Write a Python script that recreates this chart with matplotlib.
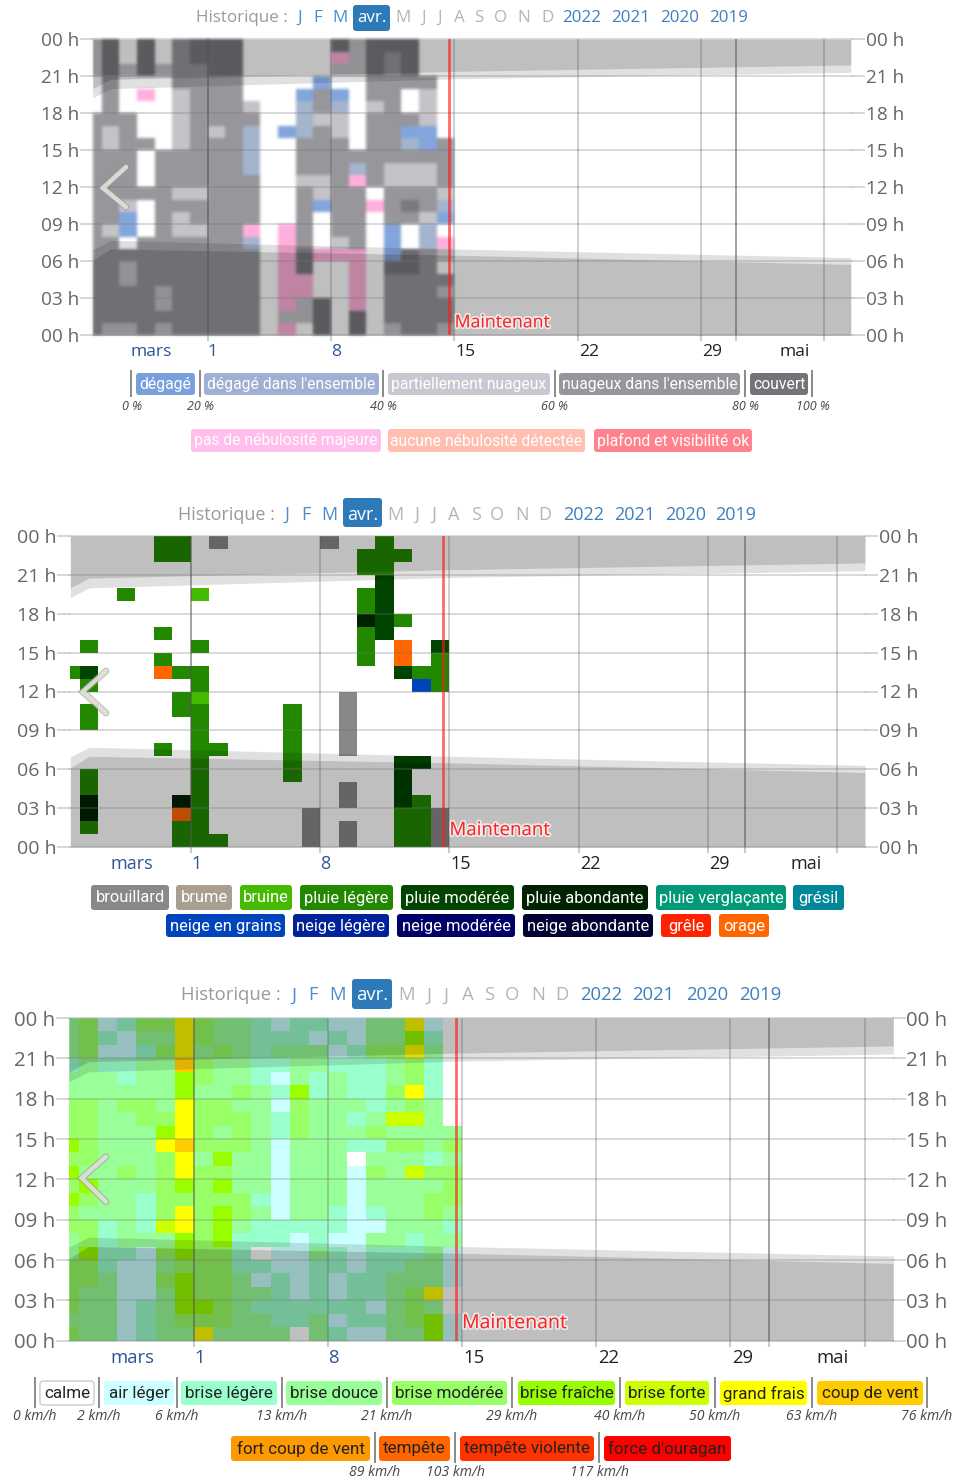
import matplotlib
matplotlib.use("Agg")
import numpy as np
import matplotlib.pyplot as plt
import matplotlib.patheffects as pe
from matplotlib.colors import ListedColormap
from matplotlib.patches import FancyBboxPatch

plt.rcParams['font.family'] = ['Open Sans', 'DejaVu Sans']
W, H = 955, 1481
PX = 0.72  # points per pixel at dpi 100

# ---------- data ----------
cloud_keys = "12345P"
cloud_cols = ["#82a5dc", "#a5b4cd", "#c3c3c8", "#96969b", "#78787e", "#ffafdc"]
cloud_rows = [
 "35.5.4555" "....." "53555" "..",
 "35.5.4555" "....." "P3545" "..",
 "353534455" "....." "33545" "..",
 ".4...4444" "....1" "..4444" ".",
 ".4.P.3444" "...14" "1.44.3.",
 ".4...3444" "3..24" "2.34.3.",
 "444..3444" "4..23" "3.4443.",
 "434..3434" "2.124" "3.4411.",
 "4344.3444" "2..44" "4.44214",
 "444.44444" "2..44" "4444444",
 "444.44444" "2..44" "4243334",
 "444.44444" "4..33" "4P43334",
 "444443344" "4..43" "44.4443",
 "443.44444" "4..41" "44P4542",
 "441.43444" "4..4." "44.4431",
 "431.43344" "P.P4." "44.1.2.",
 "44.444444" "2.P4." "34.1.2P",
 "444444444" "4.P5P" "PP.1543",
 "443444444" "4.P5." ".P.554.",
 "443444444" "4.PP." ".P.4444",
 "444434444" "4.PP." ".P.4443",
 "444434444" "4.P35" ".P.4444",
 "444444444" "4.335" ".5.4444",
 "433434444" "4.P.5" ".5.3443",
]
precip_keys = "rbpMAno"
precip_cols = ["#888888", "#44bb00", "#228800", "#004400", "#002200", "#0044bb", "#ff6600"]
precip_rows = [
 ".....pp.r.....r..p...",
 ".....pp.........ppp..",
 "................pp...",
 ".................M...",
 "...p...b........pM...",
 "................pM...",
 "................AMp..",
 ".....p..........pM...",
 ".p.....p........p.o.M",
 ".....p..........p.o.p",
 "pM...opp..........Mpp",
 ".p.....p...........np",
 "......pb.......r.....",
 ".p....pp....p..r.....",
 ".p.....p....p..r.....",
 ".......p....p..r.....",
 ".....p.pp...p..r.....",
 ".......p....p.....MM.",
 ".p.....p....p.....M..",
 ".p.....p.......r..M..",
 ".A....Ap.......r..Mp.",
 ".A....op.....r....ppr",
 ".p....pp.....r.r..ppr",
 "......ppp....r.r..ppr",
]
wind_keys = "waldmfogc"
wind_cols = ["#ffffff", "#ccffff", "#99ffcc", "#99ff99", "#99ff66", "#99ff00", "#ccff00", "#ffff00", "#ffcc00"]
wind_rows = [
 "dmalmmgmddlallaaddgaw",
 "dmladdgmddlllaladdflw",
 "dmaalmgdmdldddalmmgdw",
 "ldllddcmddllddllldmlw",
 "dddlddfmddladldlldmlw",
 "ddddddfddmdlfldllmglw",
 "mmdmmdgmmddamdddldmdw",
 "mmddmmgmmmdlmddldoodw",
 "mmdddfgmdmdlmdddmdddd",
 "fmdddgcmmmdadddllmmdm",
 "mmdddmgdfddadddwdddld",
 "fddmdmgmmddadddamdomm",
 "mfdddmfmfddadddaddddm",
 "fmddlmmmmmladddadddmm",
 "mdddlmgmfmdaddlalddmd",
 "mmldlogmfdlllllaadddl",
 "dmldddfmflllalaaddldd",
 "dfllamfmmlwaadlalllda",
 "mmlaadmmmllaallalldda",
 "mmdaamfmmdalalallddda",
 "mddaadfmmddlalalldmgw",
 "mddaldffmdlllllladmdw",
 "dddaldmmmddlldalldmfa",
 "mddalddgddddwdlaaddfa",
]
hour_labels = ["00 h", "21 h", "18 h", "15 h", "12 h", "09 h", "06 h", "03 h", "00 h"]
grid_days = [0, 7, 14, 21, 28, 30, 35]
month_grid_days = [0, 30]
x_labels = ["mars", "1", "8", "15", "22", "29", "mai"]
x_label_days = [-3.2, 0.3, 7.3, 14.63, 21.63, 28.63, 33.3]
x_label_past = [True, True, True, False, False, False, False]
now_day = 13.68
# night shading edges, hours from the top of the grid
night_x = [-6.52, -5.5, 14.0, 36.5]
top_dark = [4.0, 3.25, 2.6, 2.08]
top_twilight = [4.74, 4.0, 3.2, 2.68]
bottom_twilight = [17.05, 16.3, 17.0, 17.7]
bottom_dark = [17.9, 17.0, 17.5, 18.25]

months_before = ["J", "F", "M"]
months_after = ["M", "J", "J", "A", "S", "O", "N", "D"]
years = ["2022", "2021", "2020", "2019"]

cloud_legend1 = ["dégagé", "dégagé dans l'ensemble", "partiellement nuageux", "nuageux dans l'ensemble", "couvert"]
cloud_legend1_cols = ["#78a0dc", "#a0afd2", "#c8c8d2", "#96969b", "#737378"]
cloud_ticks = ["0 %", "20 %", "40 %", "60 %", "80 %", "100 %"]
cloud_legend2 = ["pas de nébulosité majeure", "aucune nébulosité détectée", "plafond et visibilité ok"]
cloud_legend2_cols = ["#ffbeeb", "#ffbeaf", "#ff828c"]
precip_legend1 = ["brouillard", "brume", "bruine", "pluie légère", "pluie modérée", "pluie abondante", "pluie verglaçante", "grésil"]
precip_legend1_cols = ["#888888", "#a89f91", "#44bb00", "#228800", "#004400", "#002200", "#009977", "#008899"]
precip_legend2 = ["neige en grains", "neige légère", "neige modérée", "neige abondante", "grêle", "orage"]
precip_legend2_cols = ["#0044bb", "#002299", "#000066", "#000033", "#ff2200", "#ff6600"]
wind_legend1 = ["calme", "air léger", "brise légère", "brise douce", "brise modérée", "brise fraîche", "brise forte", "grand frais", "coup de vent"]
wind_legend1_cols = ["#ffffff", "#ccffff", "#99ffcc", "#99ff99", "#99ff66", "#99ff00", "#ccff00", "#ffff00", "#ffcc00"]
wind_ticks1 = ["0 km/h", "2 km/h", "6 km/h", "13 km/h", "21 km/h", "29 km/h", "40 km/h", "50 km/h", "63 km/h", "76 km/h"]
wind_legend2 = ["fort coup de vent", "tempête", "tempête violente", "force d'ouragan"]
wind_legend2_cols = ["#ff9900", "#ff6600", "#ff3300", "#ff0000"]
wind_ticks2 = ["89 km/h", "103 km/h", "117 km/h"]

# ---------- layout (pixels) ----------
fig = plt.figure(figsize=(W / 100, H / 100), dpi=100, facecolor="white")
over = fig.add_axes([0, 0, 1, 1], zorder=5)
over.set_xlim(0, W); over.set_ylim(H, 0); over.axis("off"); over.patch.set_alpha(0)


def soften(img, dpi, radius=3):
    """Small blur: the cloud grid of the reference is a slightly blurred screenshot."""
    weights = np.array([1, 3, 6, 7, 6, 3, 1], float)[3 - radius:4 + radius]
    weights /= weights.sum()
    pad = radius
    a = np.pad(img, ((pad, pad), (pad, pad), (0, 0)))
    a[..., :3] *= a[..., 3:4]
    for axis in (0, 1):
        a = sum(w * np.roll(a, i - radius, axis=axis) for i, w in enumerate(weights))
    alpha = np.clip(a[..., 3:4], 1e-6, 1)
    a[..., :3] = np.clip(a[..., :3] / alpha, 0, 1)
    return a, -pad, -pad


def panel(left, right, top, bottom, rows, keys, cols, day_lim, fs, yfs, xlabel_px, now_y, now_fs, blur=False):
    ax = fig.add_axes([left / W, 1 - bottom / H, (right - left) / W, (bottom - top) / H], zorder=2)
    idx = np.ma.masked_less(np.array([[keys.find(c) for c in r] for r in rows], float), 0)
    mesh = ax.pcolormesh(np.arange(-7, 15), np.arange(25), idx, cmap=ListedColormap(cols),
                         vmin=0, vmax=len(cols) - 1, antialiased=False, linewidth=0, zorder=1)
    if blur:
        mesh.set_agg_filter(soften)
    ax.fill_between(night_x, 0, top_dark, color="black", alpha=.25, lw=0, zorder=2)
    ax.fill_between(night_x, top_dark, top_twilight, color="black", alpha=.12, lw=0, zorder=2)
    ax.fill_between(night_x, bottom_dark, 24, color="black", alpha=.25, lw=0, zorder=2)
    ax.fill_between(night_x, bottom_twilight, bottom_dark, color="black", alpha=.12, lw=0, zorder=2)
    ax.set_xlim(*day_lim); ax.set_ylim(24, 0)
    for s in ax.spines.values():
        s.set_visible(False)
    ax.set_yticks(np.arange(0, 25, 3), hour_labels)
    ax.tick_params(axis="y", left=True, right=True, labelleft=True, labelright=True, length=13 * PX, width=1.2,
                   color="#cfcfcf", labelcolor="#666666", labelsize=yfs * PX, pad=0.5)
    ax.set_xticks(grid_days, [""] * len(grid_days))
    ax.tick_params(axis="x", which="major", length=4, width=1.5, color="#cccccc", pad=0)
    ax.set_xticks(x_label_days, x_labels, minor=True)
    ax.tick_params(axis="x", which="minor", length=0, pad=xlabel_px, labelsize=fs * PX)
    for t, past in zip(ax.get_xticklabels(minor=True), x_label_past):
        t.set_color("#2f5597" if past else "#222222")
    for h in range(0, 25, 3):
        ax.axhline(h, color="#777777", alpha=.28, lw=1.4, zorder=3, clip_on=False)
    for d in grid_days:
        ax.axvline(d, color="#555555", alpha=.55 if d in month_grid_days else .28, lw=1.4, zorder=3)
    ax.axvline(now_day, color="#ff1a1a", alpha=.65, lw=2, zorder=4)
    ax.annotate("Maintenant", (now_day, now_y), xytext=(6, 0), textcoords="offset pixels", color="#ff2222",
                fontsize=now_fs * PX, va="center", ha="left", zorder=6,
                path_effects=[pe.withStroke(linewidth=2.5, foreground="#ffffffb0")])
    return ax


panel(92.7, 852, 39.3, 335.3, cloud_rows, cloud_keys, cloud_cols, (-6.52, 36.57), 17.5, 19, 6, 22.95, 17.7, blur=True)
panel(70.3, 865, 536, 847, precip_rows, precip_keys, precip_cols, (-6.52, 36.5), 18, 19.5, 6, 22.7, 18.7)
panel(69, 892.7, 1018, 1340.7, wind_rows, wind_keys, wind_cols, (-6.52, 36.47), 18.5, 20.5, 6, 22.7, 19.5)


def nav(y, hx, xb, pill, xa, xy, fs):
    y = y + 1.5
    over.text(hx, y, "Historique :", color="#9a9a9a", fontsize=fs * PX, ha="left", va="center")
    for s, x in zip(months_before, xb):
        over.text(x, y, s, color="#4a8ccc", fontsize=fs * PX, ha="center", va="center")
    over.add_patch(FancyBboxPatch((pill[0] + 2, pill[2] + 2), pill[1] - pill[0] - 4, pill[3] - pill[2] - 4,
                                  boxstyle="round,pad=2,rounding_size=3", fc="#2e7ab8", ec="none"))
    over.text((pill[0] + pill[1]) / 2, y, "avr.", color="white", fontsize=fs * PX, ha="center", va="center")
    for s, x in zip(months_after, xa):
        over.text(x, y, s, color="#b5b5b5", fontsize=fs * PX, ha="center", va="center")
    for s, x in zip(years, xy):
        over.text(x, y, s, color="#3f7fbf", fontsize=fs * PX, ha="center", va="center")


nav(16, 196, [300, 318, 340], (353, 390, 5, 31), [403, 424, 440, 459, 479, 501, 524, 547], [582, 631, 680, 729], 17)
nav(513, 178, [287, 306, 329], (343, 382, 498, 527), [395, 417, 434, 454, 476, 497, 522, 545], [584, 635, 686, 736], 18)
nav(994, 181, [294, 313, 337], (352, 392, 979, 1009), [406, 429, 446, 468, 489, 512, 538, 562], [601, 653, 707, 760], 18.5)


def pills(labels, colors, spans, y0, y1, fs, tc, edge=None):
    for s, c, (a, b) in zip(labels, colors, spans):
        over.add_patch(FancyBboxPatch((a + 3, y0 + 3), b - a - 6, y1 - y0 - 6, boxstyle="round,pad=3,rounding_size=3",
                                      fc=c, ec=edge if (edge and c == "#ffffff") else "none", lw=1))
        over.text((a + b) / 2, (y0 + y1) / 2 + 0.5, s, color=tc, fontsize=fs * PX, ha="center", va="center",
                  family=["Roboto", "DejaVu Sans"])


def seps(xs, y0, y1):
    for x in xs:
        over.plot([x, x], [y0, y1], color="#777777", lw=1.2, solid_capstyle="butt")


def tick_texts(labels, xs, y, fs):
    for s, x in zip(labels, xs):
        over.text(x, y, s, color="#444444", fontsize=fs * PX, style="italic", ha="center", va="center")


# cloud legend
cloud_seps = [131, 199.5, 383, 554.5, 745, 812]
seps(cloud_seps, 370, 397)
pills(cloud_legend1, cloud_legend1_cols,
      [(136, 195), (204, 379), (388, 550), (559, 740), (750, 808)], 373, 395, 15.6, "white")
tick_texts(cloud_ticks, [132, 200, 383, 554, 745, 813], 407, 12.5)
pills(cloud_legend2, cloud_legend2_cols, [(191, 381), (388, 585), (594, 752)], 429, 452, 15.6, "white")

# precipitation legend
pills(precip_legend1, precip_legend1_cols,
      [(91, 169), (176, 232), (240, 292), (300, 393), (401, 514), (522, 648), (656, 786), (793, 844)],
      885, 910, 16.5, "white")
pills(precip_legend2, precip_legend2_cols,
      [(166, 285), (293, 389), (397, 515), (523, 653), (661, 711), (719, 769)],
      914, 937, 16.5, "white")

# wind legend
wind_seps1 = [35, 99, 177, 282, 387, 512, 620, 715, 812, 927]
seps(wind_seps1, 1377, 1408)
pills(wind_legend1, wind_legend1_cols,
      [(40, 94), (104, 174), (181, 277), (286, 382), (392, 507), (518, 615), (625, 709), (720, 807), (817, 923)],
      1381, 1405, 17, "#222222", edge="#cccccc")
tick_texts(wind_ticks1, [35, 99, 177, 282, 387, 512, 620, 715, 812, 927], 1417, 14)
seps([374.5, 455, 599], 1432, 1463)
pills(wind_legend2, wind_legend2_cols, [(231, 370), (379, 450), (460, 594), (604, 731)], 1436, 1461, 17, "#222222")
tick_texts(wind_ticks2, [374.5, 455, 599], 1472, 14)

# navigation chevrons
for xs, ys in [([126, 103, 126], [167, 188, 207]), ([106, 82.7, 106], [671, 691.7, 713]), ([106, 81.7, 106], [1156.7, 1178, 1201.7])]:
    over.plot(xs, ys, color="#e2e2da", lw=3.2, solid_capstyle="round", solid_joinstyle="miter", alpha=.9,
              path_effects=[pe.withStroke(linewidth=5, foreground="#9a9a9a90")])

fig.savefig("out.png", dpi=100)
